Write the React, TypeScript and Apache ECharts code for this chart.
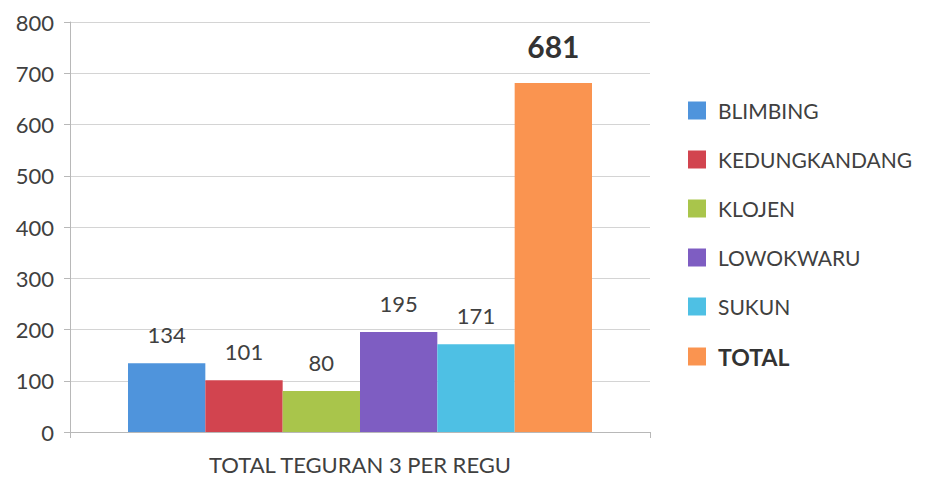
import React, { useEffect, useRef } from "react";
import * as echarts from "echarts";

const categories = ["TOTAL TEGURAN 3 PER REGU"];
const seriesNames = ["BLIMBING", "KEDUNGKANDANG", "KLOJEN", "LOWOKWARU", "SUKUN", "TOTAL"];
const seriesValues = [134, 101, 80, 195, 171, 681];
const seriesColors = ["#4f94dc", "#d2444f", "#a9c54b", "#7e5dc2", "#4ec0e4", "#fa9450"];
const yTicks = { min: 0, max: 800, interval: 100 };

const FONT = "Lato, 'Noto Sans', sans-serif";

export default function App() {
  const ref = useRef<HTMLDivElement>(null);
  useEffect(() => {
    document.body.style.margin = "0";
    if (!ref.current) return;
    const chart = echarts.init(ref.current, null, { renderer: "svg" });
    const isTotal = (n: string) => n === "TOTAL";
    chart.setOption({
      animation: false,
      backgroundColor: "#ffffff",
      textStyle: { fontFamily: FONT },
      grid: { left: 70, right: 278, top: 22, bottom: 45, containLabel: false },
      legend: {
        orient: "vertical",
        left: 688,
        top: 100,
        padding: 0,
        itemWidth: 18,
        itemHeight: 18,
        itemGap: 28,
        icon: "rect",
        data: seriesNames,
        formatter: (n: string) => (isTotal(n) ? `{b|${n}}` : `{n|${n}}`),
        textStyle: {
          fontFamily: FONT,
          padding: [0, 0, 0, 7],
          rich: {
            n: { fontSize: 21, color: "#404040", fontFamily: FONT },
            b: { fontSize: 23, color: "#333", fontWeight: "bold", fontFamily: FONT },
          },
        },
      },
      xAxis: {
        type: "category",
        data: categories,
        axisLine: { lineStyle: { color: "#b8b8b8" } },
        axisTick: { show: true, alignWithLabel: false, length: 6, lineStyle: { color: "#b8b8b8" } },
        axisLabel: { fontSize: 22, color: "#404040", margin: 21, fontFamily: FONT },
      },
      yAxis: {
        type: "value",
        min: yTicks.min,
        max: yTicks.max,
        interval: yTicks.interval,
        axisLine: { show: true, lineStyle: { color: "#b8b8b8" } },
        axisTick: { show: true, length: 6, lineStyle: { color: "#b8b8b8" } },
        axisLabel: { fontSize: 22, color: "#404040", margin: 16, fontFamily: FONT },
        splitLine: { lineStyle: { color: "#d4d4d4" } },
      },
      series: seriesNames.map((name, i) => ({
        name,
        type: "bar",
        data: [seriesValues[i]],
        barGap: "0%",
        barCategoryGap: "20%",
        itemStyle: { color: seriesColors[i] },
        label: {
          show: true,
          position: "top",
          distance: isTotal(name) ? 22 : 18,
          fontFamily: FONT,
          fontSize: isTotal(name) ? 30 : 22,
          fontWeight: isTotal(name) ? "bold" : "normal",
          color: isTotal(name) ? "#333" : "#404040",
        },
      })),
    });
    return () => chart.dispose();
  }, []);
  return <div ref={ref} style={{ width: 928, height: 477 }} />;
}
